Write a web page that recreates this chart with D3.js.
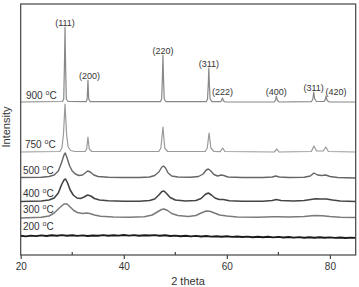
<!DOCTYPE html>
<html>
<head>
<meta charset="utf-8">
<script src="https://cdn.jsdelivr.net/npm/d3@7"></script>
<style>
  body { margin: 0; background: #fff; }
  svg { display: block; font-family: "Liberation Sans", Arial, sans-serif; }
</style>
</head>
<body>
<svg width="359" height="287"></svg>
<script>
// temperatures, bottom to top, with the vertical offset of each pattern
const temps = ["200", "300", "400", "500", "750", "900"]
const offsets = [17, 37, 53, 77, 103, 153]

// [2theta, intensity above offset]
const s200 = [[20,2.2],[21,1.6],[22,2.4],[23,1.9],[24,2.6],[25,2.0],[26,2.7],[27,2.2],[28,2.9],[29,2.3],[30,2.8],[31,2.1],[32,2.6],[33,2.0],[34,2.5],[35,2.2],[36,2.9],[37,2.3],[38,2.8],[39,2.4],[40,3.0],[41,2.4],[42,2.9],[43,2.3],[44,2.8],[45,2.5],[46,2.9],[47,2.2],[48,2.7],[49,2.0],[50,2.4],[51,1.8],[52,2.3],[53,1.6],[54,2.1],[55,1.5],[56,2.0],[57,1.4],[58,1.8],[59,1.2],[60,1.7],[61,1.1],[62,1.5],[63,1.0],[64,1.4],[65,0.8],[66,1.3],[67,0.7],[68,1.2],[69,0.6],[70,1.1],[71,0.5],[72,1.0],[73,0.4],[74,0.9],[75,0.3],[76,0.8],[77,0.2],[78,0.7],[79,0.3],[80,0.6],[81,0.1],[82,0.5],[83,0.0],[84,0.4],[85,0.1]]
const s300 = [[20,0],[24,0.8],[25.5,2],[26.5,5],[27.5,10],[28.4,14],[29,14],[29.6,11],[30.3,7.5],[31,5.5],[32,4.5],[32.8,5],[33.4,4.5],[34.3,3],[35.5,1.8],[38,1],[41,0.8],[44,1.2],[45.5,3],[46.5,6],[47.3,8.5],[47.8,9],[48.5,7.5],[49.3,4.5],[50.5,2.5],[52.5,1.5],[54,2.5],[55,5],[56,7],[56.7,6.8],[57.6,5],[58.6,3],[60,2],[62,1],[66,0.8],[69,1.2],[70,1.3],[72,1],[75,1.5],[77,2.5],[78.5,2.3],[80,1.5],[82,0.8],[85,0.5]]
const s400 = [[20,0.5],[24,1],[25.5,2],[26.5,4],[27.3,9],[27.9,17],[28.4,22],[28.7,23],[29.1,19],[29.6,12],[30.2,7],[30.9,4],[31.6,3.5],[32.3,5],[33,7],[33.6,6],[34.3,3.5],[35.3,2],[37,1.2],[40,0.8],[43,0.8],[45,1.5],[46,3],[46.8,7],[47.4,10.5],[47.8,11],[48.3,8.5],[49,4.5],[50,2],[52,1],[54,1.5],[55,3.5],[55.8,7.5],[56.4,9],[57,7],[57.7,4],[58.5,2.5],[59.3,2.5],[60.5,1.2],[63,0.8],[67,0.8],[68.8,1.5],[69.6,2.5],[70.5,1.5],[73,1],[75,1.5],[76.3,2.5],[77.2,3.2],[78.2,3],[79.3,3],[80.5,2],[82,1],[85,0.5]]
const s500 = [[20,0.5],[24,0.8],[25.5,1.5],[26.5,3],[27.3,7],[27.9,15],[28.4,23],[28.65,25],[29,20],[29.5,12],[30,7],[30.6,4],[31.3,2.5],[32,3],[32.5,5],[33,7],[33.5,6],[34.2,3],[35,1.5],[37,0.8],[40,0.5],[43,0.5],[45,1],[46,2.5],[46.8,6],[47.4,11],[47.7,12],[48.1,10],[48.6,5],[49.3,2],[50.5,1],[53,0.8],[54.5,1.5],[55.4,4],[56,8],[56.4,9],[56.9,7],[57.5,3.5],[58.2,2],[58.9,3],[59.4,2.5],[60.2,1],[63,0.5],[67,0.5],[68.8,1],[69.5,2],[70.2,1],[72,0.5],[75,0.8],[76.2,2],[76.9,5],[77.6,3],[78.4,2.5],[79.2,3],[80,1.5],[81.5,0.5],[85,0]]
const s750 = [[20,0],[27.6,0.5],[28.0,4],[28.3,18],[28.6,48],[28.9,18],[29.2,5],[29.7,1.5],[30.5,0.5],[32.5,0.5],[32.8,3],[33.05,15],[33.3,3],[33.8,0.5],[46.8,0.5],[47.2,4],[47.6,25],[47.95,4],[48.5,0.5],[55.8,0.5],[56.2,4],[56.55,19],[56.9,4],[57.5,0.5],[58.7,0.3],[59.2,4],[59.6,0.5],[69.2,0],[69.7,3],[70.1,0],[76.4,0.5],[76.9,6],[77.4,1],[78.7,1],[79.2,5],[79.7,0.5],[85,0]]
const s900 = [[20,0],[28.1,0.5],[28.35,3],[28.5,40],[28.6,75],[28.7,40],[28.85,3],[29.2,0.5],[32.7,0.3],[32.9,3],[33.05,22],[33.2,3],[33.5,0.3],[47.1,0.3],[47.35,3],[47.5,25],[47.6,47],[47.7,25],[47.85,3],[48.2,0.3],[56.0,0.3],[56.25,3],[56.4,18],[56.5,34],[56.6,18],[56.75,3],[57.1,0.3],[58.8,0.3],[59.0,2],[59.15,4],[59.35,1],[59.7,0],[69.2,0],[69.45,2],[69.6,6],[69.8,1.5],[70.2,0],[76.4,0.3],[76.7,3],[76.85,10],[77.05,3],[77.4,0.5],[78.9,0.5],[79.1,3],[79.25,6],[79.45,1.5],[79.9,0],[85,0]]
const series = [s200, s300, s400, s500, s750, s900]

// reflections labelled over the 900 C pattern
const hkl = ["(111)", "(200)", "(220)", "(311)", "(222)", "(400)", "(311)", "(420)"]
const hklPos = [28.6, 33.05, 47.6, 56.5, 59.15, 69.6, 76.85, 79.25]

const xTicks = [20, 40, 60, 80]
const xMinor = [30, 50, 70]

const svg = d3.select("svg")
const plotL = 20.7, plotR = 355.7, plotT = 4, plotB = 255

const x = d3.scaleLinear().domain([20, 85]).range([plotL, plotR])
const y = d3.scaleLinear().domain([0, 251]).range([plotB, plotT])

const colors = ["#1a1a1a", "#7a7a7a", "#444", "#666", "#9a9a9a", "#888"]
const widths = [1.9, 1.5, 1.6, 1.4, 1.2, 1.2]

const line = d3.line()

series.forEach((s, i) => {
  svg.append("path")
    .attr("d", line(s.map(d => [x(d[0]), y(d[1] + offsets[i])])))
    .attr("fill", "none")
    .attr("stroke", colors[i])
    .attr("stroke-width", widths[i])
    .attr("stroke-linejoin", "round")
})

// frame
svg.append("rect")
  .attr("x", plotL).attr("y", plotT)
  .attr("width", plotR - plotL).attr("height", plotB - plotT)
  .attr("fill", "none").attr("stroke", "#444").attr("stroke-width", 1.2)

// bottom axis: major ticks out, minor ticks in
const axis = svg.append("g").attr("transform", `translate(0,${plotB})`)
  .call(d3.axisBottom(x).tickValues(xTicks).tickSize(4).tickPadding(4))
axis.select(".domain").remove()
axis.selectAll("line").attr("stroke", "#444").attr("stroke-width", 1.2)
axis.selectAll("text").attr("font-size", 10).attr("fill", "#333")
  .attr("font-family", "Liberation Sans, Arial, sans-serif")

svg.append("g").selectAll("line").data(xMinor).join("line")
  .attr("x1", d => x(d)).attr("x2", d => x(d))
  .attr("y1", plotB).attr("y2", plotB - 3)
  .attr("stroke", "#444").attr("stroke-width", 1.2)

// temperature labels
const labelY = [230, 213, 197, 174, 148, 99]
temps.forEach((t, i) => {
  const tx = svg.append("text")
    .attr("x", i === 5 ? 26 : (i === 4 ? 25 : 23))
    .attr("y", labelY[i])
    .attr("font-size", 10).attr("fill", "#333")
  tx.append("tspan").text(t + " ")
  tx.append("tspan").text("o").attr("font-size", 7).attr("dy", -4)
  tx.append("tspan").text("C").attr("dy", 4)
})

// peak labels, placed over the 900 C peaks
const peakTop = p => {
  const pt = s900.reduce((a, b) => Math.abs(b[0] - p) < Math.abs(a[0] - p) ? b : a)
  return y(pt[1] + offsets[5])
}
svg.append("g").selectAll("text").data(hkl).join("text")
  .attr("x", (d, i) => x(hklPos[i]) + (i === 7 ? 10 : (i === 1 ? 1.5 : 0)))
  .attr("y", (d, i) => Math.min(peakTop(hklPos[i]) - 1, 95))
  .attr("text-anchor", "middle")
  .attr("font-size", 9).attr("fill", "#333")
  .text(d => d)

// axis titles
svg.append("text")
  .attr("transform", "translate(10,127) rotate(-90)")
  .attr("text-anchor", "middle")
  .attr("font-size", 11).attr("fill", "#333")
  .text("Intensity")

svg.append("text")
  .attr("x", 188).attr("y", 285)
  .attr("text-anchor", "middle")
  .attr("font-size", 11).attr("fill", "#333")
  .text("2 theta")
</script>
</body>
</html>
